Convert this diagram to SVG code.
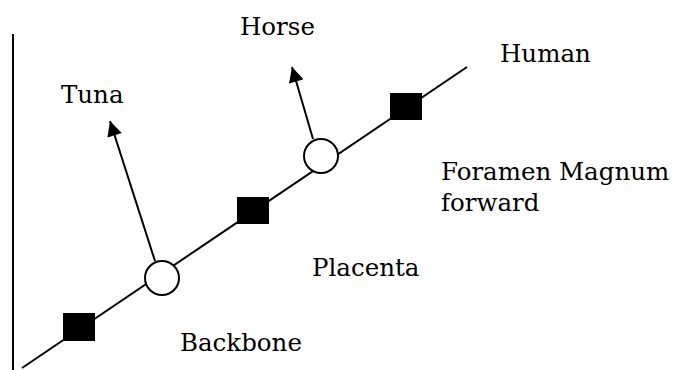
<svg xmlns="http://www.w3.org/2000/svg" width="678" height="370" viewBox="0 0 678 370">
<style>
.ln{stroke:#000;stroke-width:2;fill:none}
.sq{fill:#000}
.ci{fill:#fff;stroke:#000;stroke-width:2}
text{font-family:"DejaVu Serif","Liberation Serif",serif;font-size:24.5px;fill:#000}
</style>
<defs>
<marker id="ah" viewBox="0 0 10 10" refX="10" refY="5" markerWidth="16" markerHeight="15" markerUnits="userSpaceOnUse" orient="auto">
<path d="M0,0 L10,5 L0,10 z" fill="#000"/>
</marker>
</defs>
<g id="connectors">
<line class="ln" x1="13" y1="34" x2="13" y2="370"/>
<line class="ln" x1="22" y1="368" x2="467" y2="67"/>
<line class="ln" x1="155" y1="261" x2="110" y2="121" marker-end="url(#ah)"/>
<line class="ln" x1="313" y1="139" x2="292" y2="67" marker-end="url(#ah)"/>
</g>
<g id="sq1"><rect class="sq" x="63" y="313" width="32" height="28"/></g>
<g id="sq2"><rect class="sq" x="237" y="197" width="32" height="27"/></g>
<g id="sq3"><rect class="sq" x="390" y="93" width="32" height="27"/></g>
<g id="c1"><circle class="ci" cx="162" cy="278" r="17"/></g>
<g id="c2"><circle class="ci" cx="321" cy="156" r="17"/></g>
<g id="labels">
<text x="240" y="35">Horse</text>
<text x="61" y="103">Tuna</text>
<text x="500" y="62">Human</text>
<text x="441" y="180">Foramen Magnum</text>
<text x="441" y="211">forward</text>
<text x="312" y="276">Placenta</text>
<text x="180" y="351">Backbone</text>
</g>
</svg>
